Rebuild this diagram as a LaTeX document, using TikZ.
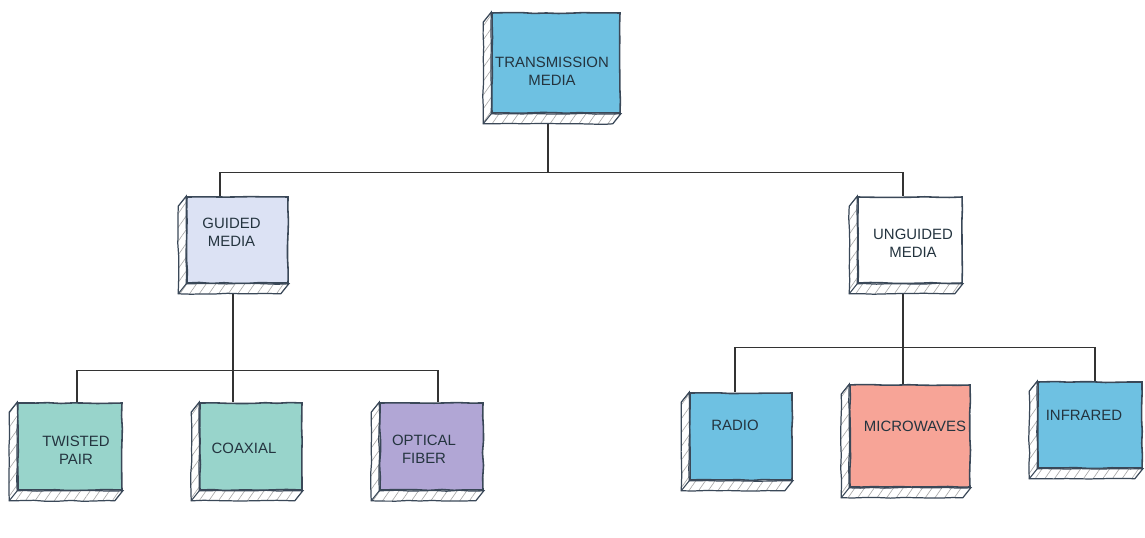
\documentclass[tikz,border=0pt]{standalone}
\usepackage{fontspec}
\setmainfont{Liberation Sans}
\usetikzlibrary{calc}
\usetikzlibrary{backgrounds}
\usetikzlibrary{patterns.meta}
\usetikzlibrary{decorations.pathmorphing}
\definecolor{ink}{HTML}{3A4858}
\definecolor{textink}{HTML}{24343F}
\definecolor{skyfill}{HTML}{6EC1E2}
\definecolor{lilacfill}{HTML}{DCE2F4}
\definecolor{tealfill}{HTML}{98D4CB}
\definecolor{purplefill}{HTML}{B1A6D5}
\definecolor{salmonfill}{HTML}{F7A497}
\tikzset{
  box/.style        = { rectangle, inner sep=0pt },
  border/.style     = { draw=ink, line width=0.9pt },
  sketch/.style     = { decorate, decoration={random steps, segment length=7pt, amplitude=0.3pt} },
  medium/.style 2 args = { box, border, sketch, minimum width=#1cm, minimum height=#2cm },
  skybox/.style     = { fill=skyfill },
  lilacbox/.style   = { fill=lilacfill },
  whitebox/.style   = { fill=white },
  tealbox/.style    = { fill=tealfill },
  purplebox/.style  = { fill=purplefill },
  salmonbox/.style  = { fill=salmonfill },
  caption/.style    = { align=center, text=textink, inner sep=0pt,
                        font=\fontsize{8.5}{10.3}\selectfont },
  slab/.style       = { draw=ink, line width=0.7pt, sketch, preaction={fill=white},
                        pattern={Lines[angle=55, distance=4.5pt, line width=0.35pt]},
                        pattern color=gray!70 },
  link/.style       = { draw=black!80, line width=0.7pt },
}
\newcommand\slab[1]{%
  \path[slab] (#1.north west) -- ++(-0.16,-0.2)
       -- ($(#1.south west)+(-0.16,-0.2)$)
       -- ($(#1.south east)+(-0.16,-0.2)$)
       -- (#1.south east) -- (#1.south west) -- cycle;
  \draw[ink, line width=0.6pt] (#1.south west) -- ++(-0.16,-0.2);
}

\begin{document}
\begin{tikzpicture}
  \pgfmathsetseed{7}
  \useasboundingbox (0,0) rectangle (22.9,-10.74);

  % boxes
  \node (tm)       [medium={2.56}{2.00},skybox]    at (11.12,-1.26) {};
  \node (guided)   [medium={2.02}{1.72},lilacbox]  at (4.75,-4.80)  {};
  \node (unguided) [medium={2.08}{1.72},whitebox]  at (18.20,-4.80) {};
  \node (twisted)  [medium={2.08}{1.74},tealbox]   at (1.40,-8.93)  {};
  \node (coax)     [medium={2.04}{1.74},tealbox]   at (5.02,-8.93)  {};
  \node (fiber)    [medium={2.06}{1.74},purplebox] at (8.63,-8.93)  {};
  \node (radio)    [medium={2.04}{1.74},skybox]    at (14.82,-8.73) {};
  \node (micro)    [medium={2.40}{2.04},salmonbox] at (18.20,-8.72) {};
  \node (infra)    [medium={2.08}{1.72},skybox]    at (21.80,-8.50) {};

  % texts
  \node (tmtext)       [caption] at ($(tm)+(-0.08,-0.16)$)       {TRANSMISSION\\MEDIA};
  \node (guidedtext)   [caption] at ($(guided)+(-0.12,0.16)$)    {GUIDED\\MEDIA};
  \node (unguidedtext) [caption] at ($(unguided)+(0.06,-0.06)$)  {UNGUIDED\\MEDIA};
  \node (twistedtext)  [caption] at ($(twisted)+(0.12,-0.07)$)   {TWISTED\\PAIR};
  \node (coaxtext)     [caption] at ($(coax)+(-0.14,-0.03)$)     {COAXIAL};
  \node (fibertext)    [caption] at ($(fiber)+(-0.15,-0.05)$)    {OPTICAL\\FIBER};
  \node (radiotext)    [caption] at ($(radio)+(-0.12,0.23)$)     {RADIO};
  \node (microtext)    [caption] at ($(micro)+(0.10,0.20)$)      {MICROWAVES};
  \node (infratext)    [caption] at ($(infra)+(-0.12,0.20)$)     {INFRARED};

  % 3d edges
  \foreach \b in {tm,guided,unguided,twisted,coax,fiber,radio,micro,infra}
    \slab{\b};

  % connectors
  \begin{scope}[on background layer]
    \draw [link] ([xshift=-0.16cm]tm.south) -- ++(0,-1.18) -| ([xshift=-0.35cm]guided.north);
    \draw [link] ([xshift=-0.16cm]tm.south) -- ++(0,-1.18) -| ([xshift=-0.14cm]unguided.north);

    \draw [link] ([xshift=-0.09cm]guided.south) -- ++(0,-1.74) -| ([xshift=0.14cm]twisted.north);
    \draw [link] ([xshift=-0.09cm]guided.south) -- ([xshift=-0.36cm]coax.north);
    \draw [link] ([xshift=-0.09cm]guided.south) -- ++(0,-1.74) -| ([xshift=0.13cm]fiber.north);

    \draw [link] ([xshift=-0.14cm]unguided.south) -- ++(0,-1.28) -| ([xshift=-0.12cm]radio.north);
    \draw [link] ([xshift=-0.14cm]unguided.south) -- ([xshift=-0.14cm]micro.north);
    \draw [link] ([xshift=-0.14cm]unguided.south) -- ++(0,-1.28) -| ([xshift=0.10cm]infra.north);
  \end{scope}
\end{tikzpicture}
\end{document}
